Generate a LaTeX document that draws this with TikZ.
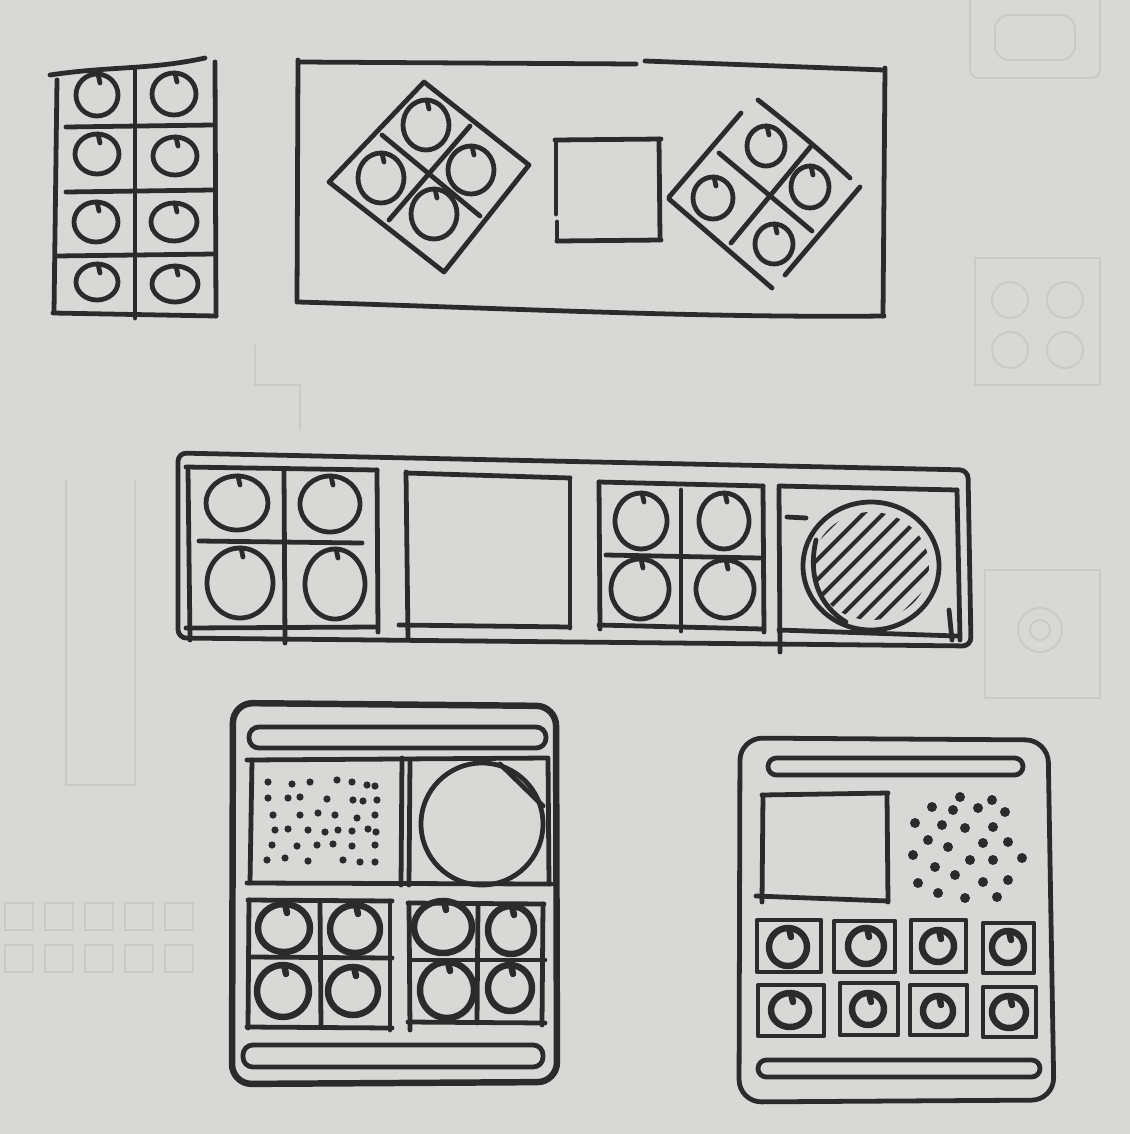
\documentclass[tikz,border=0pt]{standalone}
\usetikzlibrary{calc}
\definecolor{paper}{HTML}{D8D9D6}
\definecolor{inkc}{HTML}{2B2B2B}
\definecolor{ghost}{HTML}{CACBC8}
\tikzset{
  ink/.style={draw=inkc, line width=3.4pt, line cap=round, line join=round},
  heavyink/.style={draw=inkc, line width=4.6pt, line cap=round, line join=round},
  hatchink/.style={draw=inkc, line width=2.8pt, line cap=round},
  ghostline/.style={draw=ghost, line width=1.4pt, line cap=round},
  inkdot/.style={fill=inkc},
}
\newcommand\inkring[5][ink]{%
  \draw[#1] (#2,#3) ellipse [x radius=#4, y radius=#5];
  \draw[#1] ({#2+1},{#3-#5}) -- ({#2+3},{#3-#5+9});
}
\begin{document}
\begin{tikzpicture}[x=0.025cm,y=-0.025cm]
\fill[paper] (0,0) rectangle (1130,1134);
\useasboundingbox (0,0) rectangle (1130,1134);

% faint show-through marks
\draw[ghostline, rounded corners=6pt] (970,0) -- (970,78) -- (1100,78) -- (1100,0);
\draw[ghostline, rounded corners=10pt] (995,15) rectangle (1075,60);
\draw[ghostline] (975,258) rectangle (1100,385);
\draw[ghostline] (1010,300) circle [radius=18];
\draw[ghostline] (1065,300) circle [radius=18];
\draw[ghostline] (1010,350) circle [radius=18];
\draw[ghostline] (1065,350) circle [radius=18];
\draw[ghostline] (985,570) rectangle (1100,698);
\draw[ghostline] (1040,630) circle [radius=22];
\draw[ghostline] (1040,630) circle [radius=10];
\draw[ghostline] (66,480) -- (66,785) -- (135,785) -- (135,480);
\draw[ghostline] (255,345) -- (255,385) -- (300,385) -- (300,430);
\foreach \gx in {5,45,85,125,165}{
  \draw[ghostline] (\gx,903) rectangle ({\gx+28},{930});
  \draw[ghostline] (\gx,945) rectangle ({\gx+28},{972});
}

% ---------- shape 1: left grid ----------
\draw[ink] (50,75) .. controls (110,66) and (150,70) .. (205,58);
\draw[ink] (57,80) -- (54,312);
\draw[ink] (215,62) -- (216,316);
\draw[ink] (53,313) -- (216,316);
\draw[ink] (135,68) -- (135,318);
\draw[ink] (66,127) -- (212,125);
\draw[ink] (66,192) -- (212,190);
\draw[ink] (56,256) -- (214,254);
\inkring{97}{95}{21}{21}
\inkring{174}{94}{22}{21}
\inkring{97}{154}{22}{20}
\inkring{175}{156}{22}{19}
\inkring{96}{222}{22}{20}
\inkring{174}{222}{23}{19}
\inkring{97}{282}{21}{18}
\inkring{175}{284}{23}{18}

% ---------- shape 2: big rectangle ----------
\draw[ink] (300,62) -- (636,64);
\draw[ink] (645,61) -- (884,70);
\draw[ink] (885,68) -- (883,316);
\draw[ink] (298,302) .. controls (500,308) and (700,318) .. (884,316);
\draw[ink] (298,60) -- (297,302);
% left diamond
\draw[ink] (424,82) -- (529,165) -- (444,272) -- (329,182) -- cycle;
\draw[ink] (382,135) -- (480,216);
\draw[ink] (470,126) -- (389,220);
\inkring{426}{125}{23}{25}
\inkring{381}{178}{23}{25}
\inkring{471}{170}{23}{24}
\inkring{434}{214}{23}{25}
% middle square
\draw[ink] (555,140) -- (661,139);
\draw[ink] (659,139) -- (660,238);
\draw[ink] (557,241) -- (661,240);
\draw[ink] (556,142) -- (556,214);
\draw[ink] (557,222) -- (557,241);
% right diamond
\draw[ink] (758,100) .. controls (790,125) and (820,150) .. (850,178);
\draw[ink] (741,113) -- (669,197);
\draw[ink] (669,199) -- (772,288);
\draw[ink] (860,187) -- (785,275);
\draw[ink] (719,153) -- (812,231);
\draw[ink] (812,145) -- (731,243);
\inkring{766}{146}{19}{20}
\inkring{713}{198}{20}{21}
\inkring{810}{187}{19}{21}
\inkring{774}{244}{19}{20}

% ---------- shape 3: long strip ----------
\draw[ink, rounded corners=6pt] (178,453) -- (968,470) -- (971,646) -- (178,638) -- cycle;
\draw[ink] (186,467) -- (377,470);
\draw[ink] (406,473) -- (570,478);
\draw[ink] (599,482) -- (763,486);
\draw[ink] (779,486) -- (957,490);
\draw[ink] (186,628) -- (377,627);
\draw[ink] (399,625) -- (570,627);
\draw[ink] (599,625) -- (763,629);
\draw[ink] (779,630) -- (957,636);
% separators
\draw[ink] (188,470) -- (190,640);
\draw[ink] (377,470) -- (378,632);
\draw[ink] (406,472) -- (408,640);
\draw[ink] (570,478) -- (570,628);
\draw[ink] (599,482) -- (600,629);
\draw[ink] (763,486) -- (764,632);
\draw[ink] (779,488) -- (780,652);
\draw[ink] (957,490) -- (960,640);
% comp 1
\draw[ink] (284,470) -- (285,643);
\draw[ink] (199,541) -- (362,543);
\inkring{237}{503}{31}{27}
\inkring{330}{504}{30}{28}
\inkring{240}{583}{33}{35}
\inkring{335}{584}{30}{35}
% comp 3
\draw[ink] (681,490) -- (681,631);
\draw[ink] (606,555) -- (760,558);
\inkring{641}{521}{26}{28}
\inkring{724}{521}{25}{28}
\inkring{640}{589}{29}{30}
\inkring{725}{589}{29}{29}
% comp 4
\draw[ink] (787,517) -- (806,518);
\draw[ink] (949,610) -- (952,640);
\begin{scope}
  \clip (871,566) ellipse [x radius=58, y radius=54];
  \foreach \k in {-5,...,5}{
    \draw[hatchink] ({871+\k*20-90},{566+90}) -- ({871+\k*20+90},{566-90});
  }
\end{scope}
\draw[ink] (871,566) ellipse [x radius=68, y radius=64];
\draw[ink] (816,540) .. controls (808,575) and (818,605) .. (846,622);

% ---------- shape 4: bottom-left box ----------
\draw[heavyink, rounded corners=14pt] (233,703) -- (556,706) -- (557,1082) -- (232,1084) -- cycle;
\draw[ink, rounded corners=7pt] (249,727) rectangle (546,748);
\draw[ink] (247,760) -- (548,758);
\draw[ink] (247,883) -- (551,884);
\draw[ink] (252,760) -- (250,883);
\draw[ink] (402,758) -- (401,885);
\draw[ink] (410,760) -- (409,885);
\draw[ink] (548,759) -- (549,884);
% dots
\foreach \dx/\dy in {268/782, 292/784, 310/782, 337/780, 352/782, 367/785, 375/786,
  268/798, 288/798, 300/797, 327/799, 353/800, 363/801, 377/800,
  273/815, 300/815, 318/813, 335/815, 357/818, 375/815,
  275/830, 288/829, 308/830, 325/832, 338/830, 352/831, 368/829, 376/832,
  272/845, 297/846, 317/845, 333/844, 352/846, 375/845,
  267/860, 285/858, 308/861, 343/860, 360/862, 375/862}{
  \fill[inkdot] (\dx,\dy) circle [radius=3.6];
}
% circle with chord
\draw[ink] (482,824) circle [radius=61];
\draw[ink] (500,764) -- (543,806);
% lower grids
\draw[ink] (248,900) -- (392,901);
\draw[ink] (247,1027) -- (392,1028);
\draw[ink] (249,900) -- (248,1028);
\draw[ink] (390,901) -- (390,1030);
\draw[ink] (320,902) -- (321,1027);
\draw[ink] (250,957) -- (392,958);
\draw[ink] (408,903) -- (544,904);
\draw[ink] (408,1022) -- (545,1023);
\draw[ink] (409,903) -- (410,1030);
\draw[ink] (543,904) -- (542,1025);
\draw[ink] (478,905) -- (477,1023);
\draw[ink] (410,960) -- (545,960);
\inkring[heavyink]{284}{928}{26}{24}
\inkring[heavyink]{355}{929}{25}{24}
\inkring[heavyink]{283}{991}{26}{26}
\inkring[heavyink]{353}{991}{25}{24}
\inkring[heavyink]{443}{927}{29}{26}
\inkring[heavyink]{511}{930}{23}{24}
\inkring[heavyink]{447}{990}{27}{28}
\inkring[heavyink]{510}{988}{22}{23}
\draw[ink, rounded corners=7pt] (243,1045) rectangle (543,1067);

% ---------- shape 5: bottom-right box ----------
\draw[ink, rounded corners=16pt] (740,738) -- (1048,740) -- (1054,1100) -- (739,1102) -- cycle;
\draw[ink, rounded corners=6pt] (768,758) rectangle (1023,775);
\draw[ink] (762,795) -- (888,793);
\draw[ink] (763,795) -- (762,902);
\draw[ink] (887,794) -- (888,902);
\draw[ink] (756,896) -- (888,901);
\foreach \dx/\dy in {960/797, 992/800, 932/807, 953/810, 978/808, 1005/812,
  915/823, 942/825, 965/828, 993/827, 928/840, 948/847, 983/843, 1008/842,
  913/855, 970/860, 993/860, 1022/858, 935/867, 955/875, 983/882, 1008/880,
  918/883, 938/893, 965/898, 997/897}{
  \fill[inkdot] (\dx,\dy) circle [radius=5];
}
% small squares
\foreach \sx/\sy/\sw/\sh in {757/920/64/52, 834/921/61/51, 911/920/55/52, 983/923/51/50,
  758/985/66/51, 840/983/58/52, 910/985/57/50, 983/987/53/50}{
  \draw[ink] (\sx,\sy) rectangle ({\sx+\sw},{\sy+\sh});
}
\inkring[heavyink]{788}{947}{19}{19}
\inkring[heavyink]{866}{946}{18}{18}
\inkring[heavyink]{938}{946}{16}{16}
\inkring[heavyink]{1008}{947}{16}{16}
\inkring[heavyink]{790}{1010}{19}{17}
\inkring[heavyink]{868}{1009}{16}{16}
\inkring[heavyink]{938}{1011}{15}{15}
\inkring[heavyink]{1009}{1012}{17}{16}
\draw[ink, rounded corners=6pt] (758,1060) rectangle (1040,1077);
\end{tikzpicture}
\end{document}
